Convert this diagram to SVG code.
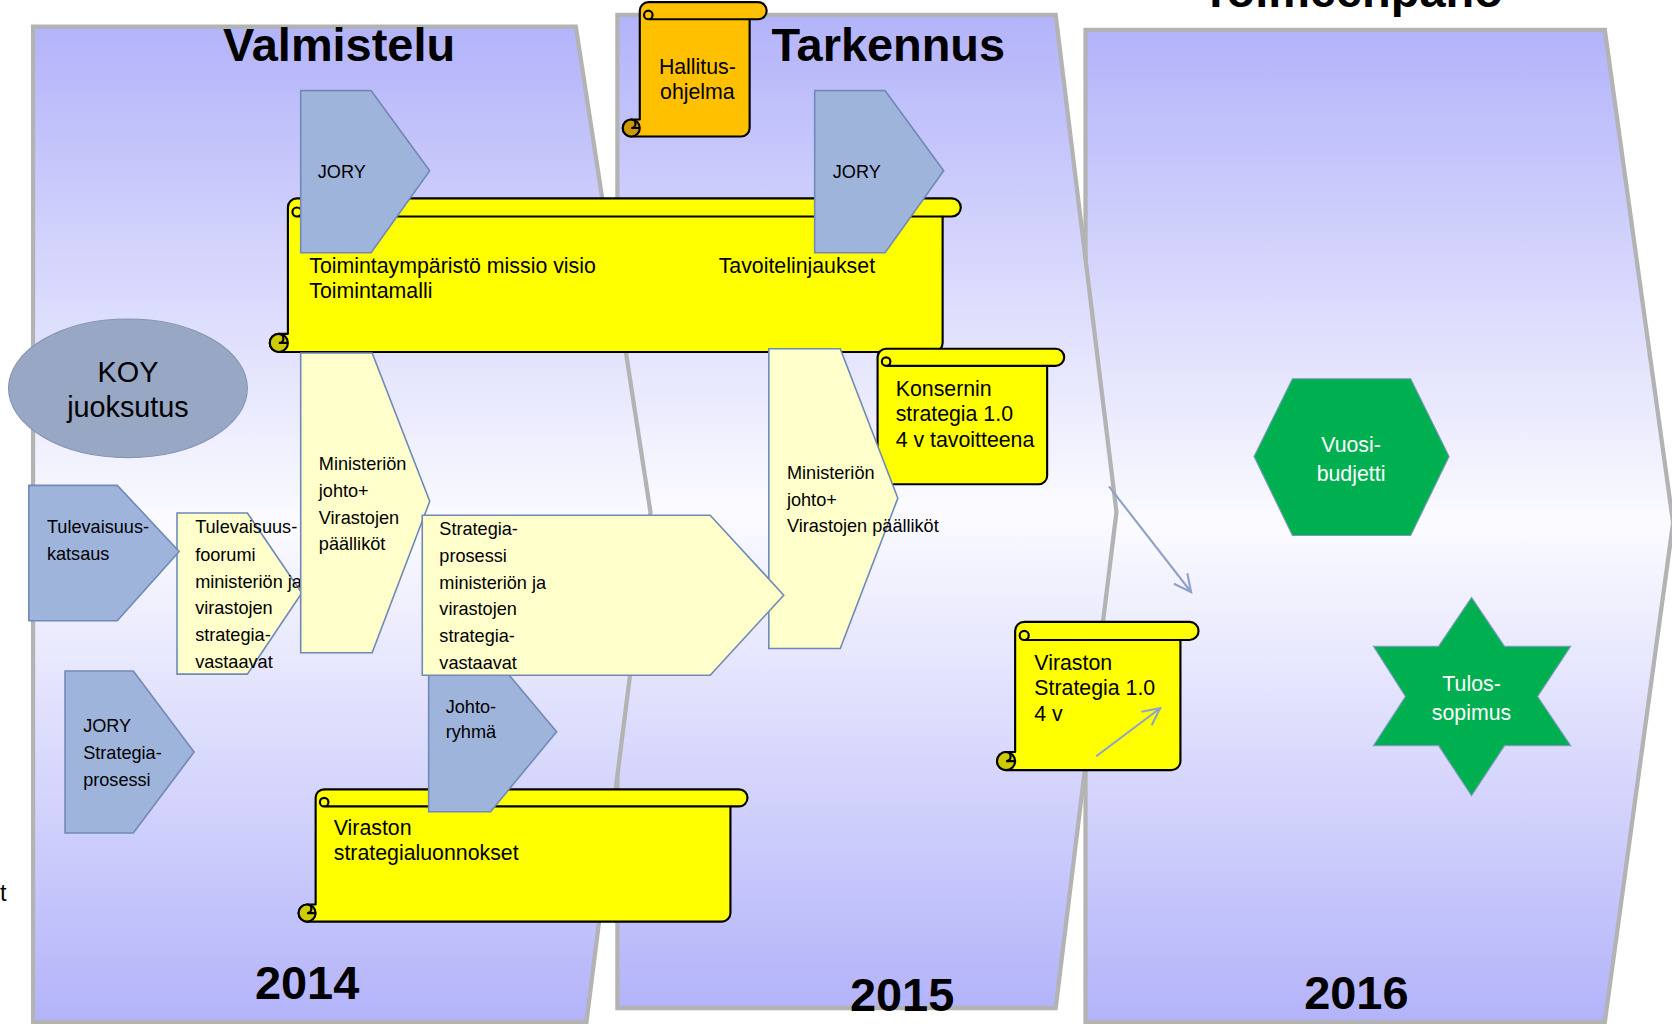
<svg xmlns="http://www.w3.org/2000/svg" width="1672" height="1024" viewBox="0 0 1672 1024">
<defs>
<linearGradient id="pg" x1="0" y1="0" x2="0" y2="1">
<stop offset="0" stop-color="#b3b3fa"/>
<stop offset="0.5" stop-color="#fbfbff"/>
<stop offset="1" stop-color="#b3b3fa"/>
</linearGradient>
<marker id="ah" markerUnits="userSpaceOnUse" markerWidth="20" markerHeight="20" viewBox="0 0 20 20" refX="18" refY="10" orient="auto">
<path d="M2,2 L18,10 L2,18" fill="none" stroke="#8fa3c8" stroke-width="2"/>
</marker>
<style>
text{font-family:"Liberation Sans",Arial,sans-serif;fill:#000}
.panel{fill:url(#pg);stroke:#b3b3b3;stroke-width:4}
.title{font-size:44px;font-weight:bold;text-anchor:middle}
.blue{fill:#9fb4db;stroke:#7189b8;stroke-width:1.5}
.ly{fill:#ffffcc;stroke:#6f89b8;stroke-width:1.5}
.t17{font-size:17px}
.t20{font-size:20px}
.scy{fill:#ffff00;stroke:#000;stroke-width:2;stroke-linejoin:round}
.scyd{fill:#cccc00;stroke:#000;stroke-width:2}
.sco{fill:#ffc000;stroke:#000;stroke-width:2;stroke-linejoin:round}
.scod{fill:#cc9a00;stroke:#000;stroke-width:2}
.ln{fill:none;stroke:#000;stroke-width:2}
.green{fill:#00b050;stroke:#7f9ac0;stroke-width:1}
.wt{fill:#fff;font-size:20px;text-anchor:middle}
.conn{fill:none;stroke:#8fa3c8;stroke-width:2;marker-end:url(#ah)}
</style>
</defs>
<rect width="1672" height="1024" fill="#fff"/>
<g transform="scale(1.06633,1.06667)">
<g id="panel-toimeenpano">
<polygon class="panel" points="1018,28 1505,28 1569,490 1505,958 1018,958"/>
<text class="title" x="1268" y="7">Toimeenpano</text>
</g>
<g id="panel-tarkennus">
<polygon class="panel" points="579,14 990,14 1047,480 990,945 579,945"/>
<text class="title" x="833" y="57">Tarkennus</text>
</g>
<g id="panel-valmistelu">
<polygon class="panel" points="31,25 540,25 610,480 550,958 31,958"/>
<text class="title" x="318" y="57">Valmistelu</text>
</g>
<text x="0" y="845" style="font-size:22px">t</text>

<g id="hallitusohjelma">
<path class="sco" d="M600,10 A8,8 0 0 1 608,2 H711 A8,8 0 0 1 711,18 H703 V120 A8,8 0 0 1 695,128 H592 A8,8 0 0 1 592,112 H600 Z"/>
<circle class="scod" cx="592" cy="120" r="8"/>
<path class="ln" d="M592,112 A4,4 0 0 1 592,120 H600"/>
<path class="ln" d="M703,18 H608 M608,18 A4,4 0 0 1 608,10 A4,4 0 0 1 608,18"/>
<text class="t20" x="654" y="69" text-anchor="middle">Hallitus-</text>
<text class="t20" x="654" y="93" text-anchor="middle">ohjelma</text>
</g>

<g id="toimintaymparisto">
<path class="scy" d="M270,194.5 A8.5,8.5 0 0 1 278.5,186 H892.5 A8.5,8.5 0 0 1 892.5,203 H884 V321.5 A8.5,8.5 0 0 1 875.5,330 H261.5 A8.5,8.5 0 0 1 261.5,313 H270 Z"/>
<circle class="scyd" cx="261.5" cy="321.5" r="8.5"/>
<path class="ln" d="M261.5,313 A4.25,4.25 0 0 1 261.5,321.5 H270"/>
<path class="ln" d="M884,203 H278.5 M278.5,203 A4.25,4.25 0 0 1 278.5,194.5 A4.25,4.25 0 0 1 278.5,203"/>
<text class="t20" x="290" y="256">Toimintaympäristö missio visio</text>
<text class="t20" x="290" y="279">Toimintamalli</text>
<text class="t20" x="674" y="256">Tavoitelinjaukset</text>
</g>

<g id="jory1">
<polygon class="blue" points="282,85 348,85 403,160 348,237 282,237"/>
<text class="t17" x="298" y="167">JORY</text>
</g>
<g id="jory2">
<polygon class="blue" points="764,85 830,85 885,160 830,237 764,237"/>
<text class="t17" x="781" y="167">JORY</text>
</g>

<g id="koy">
<ellipse cx="120" cy="364" rx="112" ry="65" fill="#97a7c4" stroke="#8494b4" stroke-width="1"/>
<text x="120" y="358" text-anchor="middle" style="font-size:27px">KOY</text>
<text x="120" y="391" text-anchor="middle" style="font-size:27px">juoksutus</text>
</g>

<g id="tulevaisuusfoorumi">
<polygon class="ly" points="166,481 232,481 283,556 232,632 166,632"/>
<text class="t17" x="183" y="500">Tulevaisuus-</text>
<text class="t17" x="183" y="526">foorumi</text>
<text class="t17" x="183" y="551">ministeriön ja</text>
<text class="t17" x="183" y="576">virastojen</text>
<text class="t17" x="183" y="601">strategia-</text>
<text class="t17" x="183" y="626">vastaavat</text>
</g>
<g id="tulevaisuuskatsaus">
<polygon class="blue" points="27,455 110,455 168,517 110,582 27,582"/>
<text class="t17" x="44" y="500">Tulevaisuus-</text>
<text class="t17" x="44" y="525">katsaus</text>
</g>
<g id="ministerio1">
<polygon class="ly" points="282,331 349,331 403,470 349,612 282,612"/>
<text class="t17" x="299" y="441">Ministeriön</text>
<text class="t17" x="299" y="466">johto+</text>
<text class="t17" x="299" y="491">Virastojen</text>
<text class="t17" x="299" y="516">päälliköt</text>
</g>

<g id="konsernin-strategia">
<path class="scy" d="M823,335 A8,8 0 0 1 831,327 H990 A8,8 0 0 1 990,343 H982 V446 A8,8 0 0 1 974,454 H815 A8,8 0 0 1 815,438 H823 Z"/>
<circle class="scyd" cx="815" cy="446" r="8"/>
<path class="ln" d="M982,343 H831 M831,343 A4,4 0 0 1 831,335 A4,4 0 0 1 831,343"/>
<text class="t20" x="840" y="371">Konsernin</text>
<text class="t20" x="840" y="395">strategia 1.0</text>
<text class="t20" x="840" y="419">4 v tavoitteena</text>
</g>
<g id="ministerio2">
<polygon class="ly" points="721,327 788,327 842,467 788,608 721,608"/>
<text class="t17" x="738" y="449">Ministeriön</text>
<text class="t17" x="738" y="474">johto+</text>
<text class="t17" x="738" y="499">Virastojen päälliköt</text>
</g>

<g id="viraston-luonnokset">
<path class="scy" d="M296,748 A8,8 0 0 1 304,740 H693 A8,8 0 0 1 693,756 H685 V856 A8,8 0 0 1 677,864 H288 A8,8 0 0 1 288,848 H296 Z"/>
<circle class="scyd" cx="288" cy="856" r="8"/>
<path class="ln" d="M288,848 A4,4 0 0 1 288,856 H296"/>
<path class="ln" d="M685,756 H304 M304,756 A4,4 0 0 1 304,748 A4,4 0 0 1 304,756"/>
<text class="t20" x="313" y="783">Viraston</text>
<text class="t20" x="313" y="806">strategialuonnokset</text>
</g>
<g id="johtoryhma">
<polygon class="blue" points="402,612 460,612 522,686 460,761 402,761"/>
<text class="t17" x="418" y="668">Johto-</text>
<text class="t17" x="418" y="692">ryhmä</text>
</g>
<g id="strategiaprosessi">
<polygon class="ly" points="396,483 666,483 735,558 666,633 396,633"/>
<text class="t17" x="412" y="502">Strategia-</text>
<text class="t17" x="412" y="527">prosessi</text>
<text class="t17" x="412" y="552">ministeriön ja</text>
<text class="t17" x="412" y="577">virastojen</text>
<text class="t17" x="412" y="602">strategia-</text>
<text class="t17" x="412" y="627">vastaavat</text>
</g>
<g id="jory-strategiaprosessi">
<polygon class="blue" points="61,629 125,629 182,705 125,781 61,781"/>
<text class="t17" x="78" y="686">JORY</text>
<text class="t17" x="78" y="712">Strategia-</text>
<text class="t17" x="78" y="737">prosessi</text>
</g>

<g id="viraston-strategia">
<path class="scy" d="M952,591.5 A8.5,8.5 0 0 1 960.5,583 H1115.5 A8.5,8.5 0 0 1 1115.5,600 H1107 V713.5 A8.5,8.5 0 0 1 1098.5,722 H943.5 A8.5,8.5 0 0 1 943.5,705 H952 Z"/>
<circle class="scyd" cx="943.5" cy="713.5" r="8.5"/>
<path class="ln" d="M943.5,705 A4.25,4.25 0 0 1 943.5,713.5 H952"/>
<path class="ln" d="M1107,600 H960.5 M960.5,600 A4.25,4.25 0 0 1 960.5,591.5 A4.25,4.25 0 0 1 960.5,600"/>
<text class="t20" x="970" y="628">Viraston</text>
<text class="t20" x="970" y="652">Strategia 1.0</text>
<text class="t20" x="970" y="676">4 v</text>
</g>

<g id="vuosibudjetti">
<polygon class="green" points="1176,428 1212,355 1323,355 1359,428 1323,502 1212,502"/>
<text class="wt" x="1267" y="424">Vuosi-</text>
<text class="wt" x="1267" y="451">budjetti</text>
</g>
<g id="tulossopimus">
<polygon class="green" points="1380,560 1411,606 1473,606 1442,653 1473,699 1411,699 1380,746 1349,699 1288,699 1318,653 1288,606 1349,606"/>
<text class="wt" x="1380" y="648">Tulos-</text>
<text class="wt" x="1380" y="675">sopimus</text>
</g>

<g id="connectors">
<line class="conn" x1="1040" y1="456" x2="1117" y2="555"/>
<line class="conn" x1="1028" y1="709" x2="1088" y2="664"/>
</g>

<g id="years">
<text class="title" x="288" y="937">2014</text>
<text class="title" x="846" y="948">2015</text>
<text class="title" x="1272" y="946">2016</text>
</g>
</g>
</svg>
